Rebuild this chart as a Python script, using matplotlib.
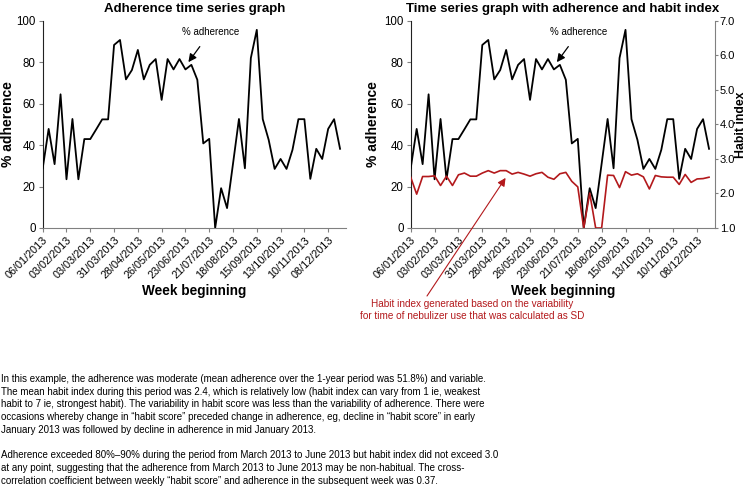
import numpy as np
import matplotlib
matplotlib.use('Agg')
import matplotlib.pyplot as plt

plt.rcParams['font.family'] = ['Liberation Sans', 'DejaVu Sans']

# weekly values, week 0 = 06/01/2013
adherence = [28.8, 47.8, 30.8, 64.5, 23.5, 52.6, 23.5, 42.9, 42.9, 47.6,
             52.4, 52.4, 88.3, 90.7, 71.7, 76.2, 85.9, 71.7, 78.7, 81.5,
             61.8, 81.5, 76.5, 81.5, 76.5, 78.7, 71.5, 40.8, 43.0, 0.0,
             19.2, 9.6, 31.0, 52.6, 28.8, 82.0, 95.6, 52.5, 42.5, 28.5,
             33.3, 28.5, 37.7, 52.5, 52.5, 23.7, 38.2, 33.3, 47.8, 52.5,
             38.2]
habit = [2.47, 1.98, 2.49, 2.49, 2.51, 2.23, 2.50, 2.23, 2.54, 2.59,
         2.50, 2.50, 2.59, 2.66, 2.59, 2.66, 2.66, 2.56, 2.61, 2.56,
         2.50, 2.57, 2.61, 2.47, 2.41, 2.57, 2.61, 2.35, 2.19, 1.0,
         2.01, 1.0, 1.0, 2.53, 2.52, 2.17, 2.63, 2.53, 2.57, 2.48,
         2.13, 2.52, 2.48, 2.47, 2.47, 2.26, 2.55, 2.32, 2.42, 2.43,
         2.47]
tick_weeks = [0, 4, 8, 12, 16, 20, 24, 28, 32, 36, 40, 44, 48]
tick_labels = ['06/01/2013', '03/02/2013', '03/03/2013', '31/03/2013',
               '28/04/2013', '26/05/2013', '23/06/2013', '21/07/2013',
               '18/08/2013', '15/09/2013', '13/10/2013', '10/11/2013',
               '08/12/2013']

para1 = ['In this example, the adherence was moderate (mean adherence over the 1-year period was 51.8%) and variable.',
         'The mean habit index during this period was 2.4, which is relatively low (habit index can vary from 1 ie, weakest',
         'habit to 7 ie, strongest habit). The variability in habit score was less than the variability of adherence. There were',
         'occasions whereby change in \u201chabit score\u201d preceded change in adherence, eg, decline in \u201chabit score\u201d in early',
         'January 2013 was followed by decline in adherence in mid January 2013.']
para2 = ['Adherence exceeded 80%\u201390% during the period from March 2013 to June 2013 but habit index did not exceed 3.0',
         'at any point, suggesting that the adherence from March 2013 to June 2013 may be non-habitual. The cross-',
         'correlation coefficient between weekly \u201chabit score\u201d and adherence in the subsequent week was 0.37.']

weeks = np.arange(len(adherence))
red = '#b3191c'
grey = '#808080'

W, H = 749, 488
fig = plt.figure(figsize=(W / 100, H / 100), dpi=100)


def px_axes(x0, x1, y0, y1):
    return fig.add_axes([x0 / W, 1 - y1 / H, (x1 - x0) / W, (y1 - y0) / H])


def style_axes(ax, title, ylab_x):
    ax.plot(weeks, adherence, color='black', lw=1.3, zorder=3)
    ax.set_xlim(0, 51)
    ax.set_ylim(0, 100)
    ax.set_yticks(range(0, 101, 20))
    ax.set_xticks(tick_weeks)
    ax.set_xticklabels(tick_labels, rotation=45, ha='right',
                       rotation_mode='anchor', fontsize=7.8)
    ax.tick_params(axis='y', labelsize=8.3, length=3, color=grey, pad=2)
    ax.tick_params(axis='x', length=3, color=grey, pad=2)
    ax.spines['top'].set_visible(False)
    ax.spines['right'].set_visible(False)
    ax.spines['left'].set_color('#222222')
    ax.spines['bottom'].set_color(grey)
    ax.set_title(title, fontsize=9.5, fontweight='bold', pad=6)
    ax.set_ylabel('% adherence', fontsize=10, fontweight='bold')
    ax.yaxis.set_label_coords(ylab_x, 0.5)
    ax.set_xlabel('Week beginning', fontsize=9.8, fontweight='bold')
    ax.xaxis.set_label_coords(0.5, -0.27)
    ax.annotate('% adherence', xy=(24.5, 80), xytext=(28.2, 94.5),
                ha='center', va='center', fontsize=7,
                arrowprops=dict(arrowstyle='-|>', color='black', lw=0.9,
                                mutation_scale=12, shrinkA=6, shrinkB=0))


ax1 = px_axes(42.7, 346, 20.7, 228)
style_axes(ax1, 'Adherence time series graph', -0.091)

ax2 = px_axes(410.7, 715, 20.7, 228)
style_axes(ax2, 'Time series graph with adherence and habit index', -0.101)

ax3 = ax2.twinx()
ax3.plot(weeks, habit, color=red, lw=1.2, zorder=2)
ax3.set_ylim(1, 7)
ax3.set_yticks(np.arange(1, 7.1, 1))
ax3.set_yticklabels(['%.1f' % v for v in np.arange(1, 7.1, 1)])
ax3.tick_params(axis='y', labelsize=8, length=2, color=grey, pad=1.5)
ax3.spines['top'].set_visible(False)
ax3.spines['left'].set_visible(False)
ax3.spines['bottom'].set_visible(False)
ax3.spines['right'].set_color(grey)
ax3.set_ylabel('Habit index', fontsize=8.8, fontweight='bold')
ax3.yaxis.set_label_coords(1.066, 0.5)
ax3.annotate('', xy=(15.9, 2.45), xycoords='data',
             xytext=(427, H - 296), textcoords='figure pixels',
             arrowprops=dict(arrowstyle='-|>', color=red, lw=0.8,
                             mutation_scale=12, shrinkA=0, shrinkB=0))

fig.text(472 / W, 1 - 310 / H,
         'Habit index generated based on the variability\n'
         'for time of nebulizer use that was calculated as SD',
         color=red, fontsize=7.2, ha='center', va='center',
         multialignment='center', linespacing=1.2)

# body text, one line at a time (baselines in pixels from top)
step = 12.7
for i, line in enumerate(para1):
    fig.text(1 / W, 1 - (382 + step * i) / H, line, fontsize=7.0,
             ha='left', va='baseline')
for i, line in enumerate(para2):
    fig.text(1 / W, 1 - (382 + step * (i + 6)) / H, line, fontsize=7.0,
             ha='left', va='baseline')

fig.savefig('out.png', dpi=100)
